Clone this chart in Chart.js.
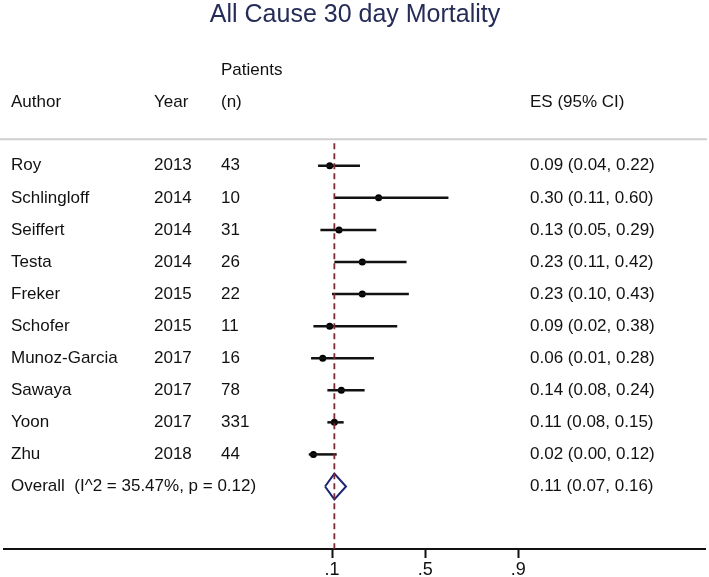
<!DOCTYPE html>
<html>
<head>
<meta charset="utf-8">
<script src="https://cdn.jsdelivr.net/npm/chart.js@4/dist/chart.umd.min.js"></script>
<style>
html,body{margin:0;padding:0;background:#fff;}
#wrap{width:709px;height:577px;position:relative;}
</style>
</head>
<body>
<div id="wrap"><canvas id="forestChart"></canvas></div>
<script>
// ---- DATA ----
const authors  = ['Roy', 'Schlingloff', 'Seiffert', 'Testa', 'Freker', 'Schofer', 'Munoz-Garcia', 'Sawaya', 'Yoon', 'Zhu'];
const years    = [2013, 2014, 2014, 2014, 2015, 2015, 2017, 2017, 2017, 2018];
const patients = [43, 10, 31, 26, 22, 11, 16, 78, 331, 44];
const es       = [0.09, 0.30, 0.13, 0.23, 0.23, 0.09, 0.06, 0.14, 0.11, 0.02];
const lower    = [0.04, 0.11, 0.05, 0.11, 0.10, 0.02, 0.01, 0.08, 0.08, 0.00];
const upper    = [0.22, 0.60, 0.29, 0.42, 0.43, 0.38, 0.28, 0.24, 0.15, 0.12];
const overallEs = 0.11, overallLo = 0.07, overallHi = 0.16;
const overallLabel = 'Overall  (I^2 = 35.47%, p = 0.12)';
const tickVals = [0.1, 0.5, 0.9];

const FONT = '"Liberation Sans", Arial, sans-serif';
const overallRow = authors.length + 1;

function fmtCI(e, l, h){
  return e.toFixed(2) + ' (' + l.toFixed(2) + ', ' + h.toFixed(2) + ')';
}

// ---- TEXT TABLE PLUGIN ----
const tabela = {
  id: 'tabela',
  beforeDatasetsDraw(chart){
    const ctx = chart.ctx, y = chart.scales.y;
    ctx.save();
    ctx.strokeStyle = '#cfcfcf';
    ctx.lineWidth = 2;
    const py = y.getPixelForValue(0.17);
    ctx.beginPath();
    ctx.moveTo(0, py);
    ctx.lineTo(707, py);
    ctx.stroke();
    ctx.restore();
  },
  afterDraw(chart){
    const ctx = chart.ctx, y = chart.scales.y;
    ctx.save();
    ctx.textBaseline = 'middle';

    ctx.fillStyle = '#262c58';
    ctx.font = '25px ' + FONT;
    ctx.textAlign = 'center';
    ctx.fillText('All Cause 30 day Mortality', 355, y.getPixelForValue(-3.7));

    ctx.fillStyle = '#111';
    ctx.font = '17px ' + FONT;
    ctx.textAlign = 'left';
    ctx.fillText('Patients', 221, y.getPixelForValue(-1.99));
    const hy = y.getPixelForValue(-0.97);
    ctx.fillText('Author', 11, hy);
    ctx.fillText('Year', 154, hy);
    ctx.fillText('(n)', 221, hy);
    ctx.fillText('ES (95% CI)', 530, hy);

    authors.forEach((a, i) => {
      const py = y.getPixelForValue(i + 1);
      ctx.fillText(a, 11, py);
      ctx.fillText(String(years[i]), 154, py);
      ctx.fillText(String(patients[i]), 221, py);
      ctx.fillText(fmtCI(es[i], lower[i], upper[i]), 530, py);
    });
    const oy = y.getPixelForValue(overallRow);
    ctx.fillText(overallLabel, 11, oy);
    ctx.fillText(fmtCI(overallEs, overallLo, overallHi), 530, oy);
    ctx.restore();
  }
};

// ---- CHART ----
const datasets = [];

// linha de referencia (estimativa global)
datasets.push({
  data: [{x: overallEs, y: 0.3}, {x: overallEs, y: 12.95}],
  showLine: true,
  borderColor: '#7c2a36',
  borderWidth: 1.8,
  borderDash: [6, 4],
  pointRadius: 0
});

// intervalos de confianca
authors.forEach((a, i) => {
  datasets.push({
    data: [{x: lower[i], y: i + 1}, {x: upper[i], y: i + 1}],
    showLine: true,
    borderColor: '#111',
    borderWidth: 2.5,
    pointRadius: 0
  });
});

// estimativas pontuais
datasets.push({
  data: es.map((v, i) => ({x: v, y: i + 1})),
  showLine: false,
  backgroundColor: '#000',
  borderColor: '#000',
  pointRadius: 3.5,
  pointBorderWidth: 0
});

// diamante
datasets.push({
  data: [
    {x: overallLo, y: overallRow},
    {x: overallEs, y: overallRow - 0.4},
    {x: overallHi, y: overallRow},
    {x: overallEs, y: overallRow + 0.4},
    {x: overallLo, y: overallRow}
  ],
  showLine: true,
  tension: 0,
  borderColor: '#1e2470',
  borderWidth: 2,
  pointRadius: 0
});

new Chart(document.getElementById('forestChart').getContext('2d'), {
  type: 'scatter',
  data: { datasets },
  options: {
    responsive: true,
    maintainAspectRatio: false,
    animation: false,
    layout: { padding: 0 },
    plugins: { legend: { display: false }, tooltip: { enabled: false } },
    scales: {
      x: {
        type: 'linear',
        min: -1.309,
        max: 1.702,
        afterBuildTicks: s => { s.ticks = tickVals.map(v => ({ value: v })); },
        afterFit: s => { s.height = 28; },
        grid: { drawOnChartArea: false, drawTicks: true, tickLength: 9, tickColor: '#111', tickWidth: 2 },
        border: { display: true, color: '#111', width: 2 },
        ticks: {
          color: '#111',
          padding: 1,
          maxRotation: 0,
          font: { family: FONT, size: 18 },
          callback: v => String(Math.round(v * 10) / 10).replace(/^0/, '')
        }
      },
      y: {
        type: 'linear',
        display: false,
        reverse: true,
        min: -4.046,
        max: 12.95
      }
    }
  },
  plugins: [tabela]
});
</script>
</body>
</html>
